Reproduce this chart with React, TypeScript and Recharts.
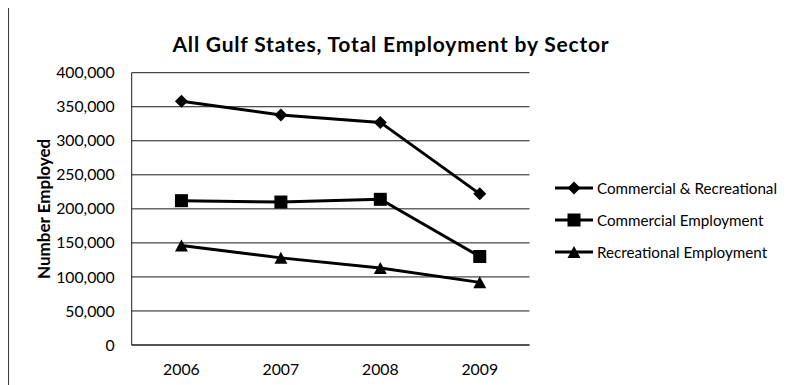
import React from 'react';
import { LineChart, Line, XAxis, YAxis, CartesianGrid } from 'recharts';

// Employment across all Gulf states, by sector and year
const years = ['2006', '2007', '2008', '2009'];
const commercialRecreational = [358000, 338000, 327000, 222000];
const commercialEmployment = [212000, 210000, 214000, 130000];
const recreationalEmployment = [146000, 128000, 113000, 92000];
const yTicks = [0, 50000, 100000, 150000, 200000, 250000, 300000, 350000, 400000];

const seriesNames = ['Commercial & Recreational', 'Commercial Employment', 'Recreational Employment'];

const data = years.map((year, i) => ({
  year,
  total: commercialRecreational[i],
  commercial: commercialEmployment[i],
  recreational: recreationalEmployment[i],
}));

const FONT = 'Lato, "Open Sans", sans-serif';
const INK = '#000';

type MarkerKind = 'diamond' | 'square' | 'triangle';

function Marker({ kind, cx, cy }: { kind: MarkerKind; cx: number; cy: number }) {
  if (kind === 'diamond') {
    const r = 6.5;
    return (
      <polygon
        points={`${cx},${cy - r} ${cx + r},${cy} ${cx},${cy + r} ${cx - r},${cy}`}
        fill={INK}
      />
    );
  }
  if (kind === 'square') {
    const s = 13;
    return <rect x={cx - s / 2} y={cy - s / 2} width={s} height={s} fill={INK} />;
  }
  const w = 13;
  const h = 12;
  return (
    <polygon
      points={`${cx},${cy - h / 2} ${cx + w / 2},${cy + h / 2} ${cx - w / 2},${cy + h / 2}`}
      fill={INK}
    />
  );
}

const makeDot = (kind: MarkerKind) => (props: any) => {
  const { cx, cy, index } = props;
  if (cx == null || cy == null) return <g key={`${kind}-${index}`} />;
  return (
    <g key={`${kind}-${index}`}>
      <Marker kind={kind} cx={cx} cy={cy} />
    </g>
  );
};

const markerKinds: MarkerKind[] = ['diamond', 'square', 'triangle'];

function LegendBox() {
  return (
    <div style={{ position: 'absolute', left: 546, top: 165, fontFamily: FONT }}>
      {seriesNames.map((name, i) => (
        <div
          key={name}
          style={{ display: 'flex', alignItems: 'center', height: 32, whiteSpace: 'nowrap' }}
        >
          <svg width={42} height={20} style={{ display: 'block' }}>
            <line x1={1} y1={10} x2={39} y2={10} stroke={INK} strokeWidth={3} />
            <Marker kind={markerKinds[i]} cx={20} cy={10} />
          </svg>
          <span style={{ fontSize: 15.2, color: INK, marginLeft: 1 }}>{name}</span>
        </div>
      ))}
    </div>
  );
}

export default function App() {
  const width = 789;
  const height = 378;
  return (
    <div style={{ position: 'relative', width, height, marginTop: -1, overflow: 'hidden' }}>
      <div
        style={{
          position: 'absolute',
          left: 0,
          top: 0,
          width,
          height,
          boxSizing: 'border-box',
          borderTop: '1px solid #3a3a3a',
          borderLeft: '1px solid #3a3a3a',
        }}
      />
      <div
        style={{
          position: 'absolute',
          left: 0,
          top: 24,
          width: 766,
          textAlign: 'center',
          fontFamily: FONT,
          fontWeight: 700,
          fontSize: 21,
          letterSpacing: 0.8,
          lineHeight: 1.2,
          color: INK,
          whiteSpace: 'nowrap',
        }}
      >
        All Gulf States, Total Employment by Sector
      </div>
      <div style={{ position: 'absolute', left: 0, top: 0 }}>
        <LineChart
          width={width}
          height={height}
          data={data}
          margin={{ top: 65.7, right: 267.5, bottom: 10, left: 63.7 }}
        >
          <CartesianGrid vertical={false} stroke="#1a1a1a" strokeWidth={1} />
          <XAxis
            dataKey="year"
            height={30}
            padding={{ left: 49.75, right: 49.75 }}
            tickLine={false}
            tickSize={0}
            tickMargin={19}
            axisLine={{ stroke: '#1a1a1a', strokeWidth: 1 }}
            tick={{ fill: INK, fontSize: 15.8, fontFamily: FONT }}
          />
          <YAxis
            width={60}
            domain={[0, 400000]}
            ticks={yTicks}
            interval={0}
            tickLine={false}
            tickSize={0}
            tickMargin={17}
            axisLine={{ stroke: '#1a1a1a', strokeWidth: 1 }}
            tickFormatter={(v: number) => v.toLocaleString('en-US')}
            tick={{ fill: INK, fontSize: 15.8, fontFamily: FONT }}
            label={{
              value: 'Number Employed',
              angle: -90,
              position: 'left',
              offset: 27.7,
              style: { textAnchor: 'middle', fontFamily: FONT, fontWeight: 700, fontSize: 17, fill: INK },
            }}
          />
          <Line
            dataKey="total"
            name={seriesNames[0]}
            stroke={INK}
            strokeWidth={3}
            dot={makeDot('diamond')}
            activeDot={false}
            isAnimationActive={false}
          />
          <Line
            dataKey="commercial"
            name={seriesNames[1]}
            stroke={INK}
            strokeWidth={3}
            dot={makeDot('square')}
            activeDot={false}
            isAnimationActive={false}
          />
          <Line
            dataKey="recreational"
            name={seriesNames[2]}
            stroke={INK}
            strokeWidth={3}
            dot={makeDot('triangle')}
            activeDot={false}
            isAnimationActive={false}
          />
        </LineChart>
      </div>
      <LegendBox />
    </div>
  );
}
